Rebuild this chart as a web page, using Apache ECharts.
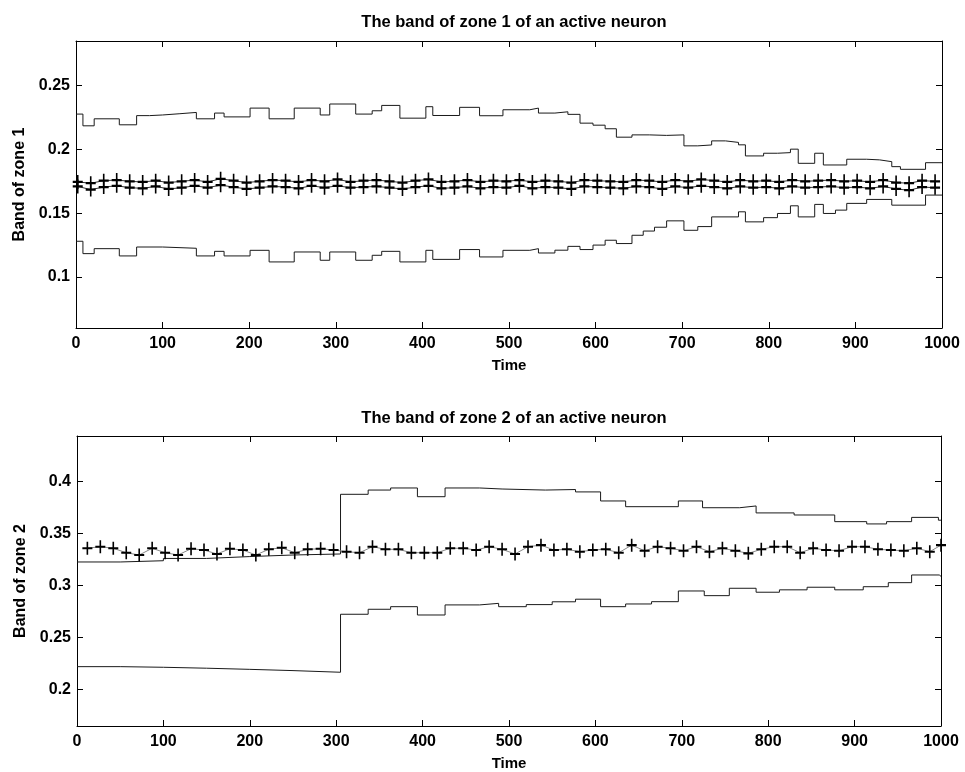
<!DOCTYPE html>
<html>
<head>
<meta charset="utf-8">
<script src="https://cdn.jsdelivr.net/npm/echarts@6/dist/echarts.min.js"></script>
<style>html,body{margin:0;padding:0;background:#fff}#c{width:965px;height:772px}</style>
</head>
<body>
<div id="c"></div>
<script>
// ---------- Data ----------
const titles = ["The band of zone 1 of an active neuron", "The band of zone 2 of an active neuron"];
const yNames = ["Band of zone 1", "Band of zone 2"];
const xName = "Time";
const xTicks = [0, 100, 200, 300, 400, 500, 600, 700, 800, 900, 1000];
const zone1YTicks = [0.1, 0.15, 0.2, 0.25];
const zone2YTicks = [0.2, 0.25, 0.3, 0.35, 0.4];

// Zone 1 upper band (step changes at these times)
const zone1UpperT = [0,8,21,50,70,85,100,120,139,160,171,201,223,252,282,293,323,342,353,374,404,412,443,466,493,524,534,553,568,582,597,611,624,642,662,682,702,718,734,750,765,773,794,810,825,834,853,863,890,913,928,942,952,981,1000];
const zone1UpperV = [0.2277,0.2185,0.224,0.2193,0.2265,0.227,0.228,0.229,0.224,0.2285,0.2255,0.2324,0.224,0.2324,0.227,0.2356,0.2277,0.2303,0.2345,0.2245,0.2335,0.2266,0.233,0.2264,0.2311,0.2324,0.2285,0.2295,0.2275,0.2206,0.219,0.2162,0.2096,0.2114,0.211,0.2114,0.2028,0.2035,0.2067,0.2055,0.2036,0.1949,0.197,0.1975,0.2002,0.1891,0.197,0.1878,0.1923,0.1918,0.1904,0.1865,0.1844,0.1896,0.1896];
// Zone 1 lower band
const zone1LowerT = [0,8,21,50,70,100,139,160,171,201,223,252,282,293,323,342,353,374,404,412,443,466,493,524,534,553,568,582,597,611,624,642,655,668,682,702,718,734,765,773,794,810,825,834,853,863,877,890,913,942,981,1000];
const zone1LowerV = [0.128,0.1183,0.1222,0.1165,0.1235,0.1225,0.1165,0.1201,0.1165,0.1209,0.1118,0.1196,0.1131,0.1196,0.1131,0.117,0.1201,0.1118,0.1209,0.1138,0.1215,0.1157,0.1209,0.1222,0.1188,0.121,0.124,0.1215,0.125,0.1288,0.1262,0.1327,0.136,0.139,0.144,0.1366,0.1395,0.1471,0.1511,0.1432,0.1465,0.1498,0.1558,0.1471,0.1569,0.1498,0.1524,0.1577,0.1608,0.1563,0.1642,0.1642];
// Zone 1 marked samples
const zone1MarkT = [2,17,32,47,62,77,92,107,122,137,152,167,182,197,212,227,242,257,272,287,302,317,332,347,362,377,392,407,422,437,452,467,482,497,512,527,542,557,572,587,602,617,632,647,662,677,692,707,722,737,752,767,782,797,812,827,842,857,872,887,902,917,932,947,962,977,992];
const zone1MarkA = [0.1745,0.1735,0.1755,0.1760,0.1750,0.1745,0.1755,0.1740,0.1750,0.1760,
  0.1745,0.1770,0.1755,0.1740,0.1750,0.1760,0.1755,0.1745,0.1760,0.1750,
  0.1765,0.1745,0.1755,0.1760,0.1750,0.1740,0.1755,0.1765,0.1745,0.1750,
  0.1760,0.1745,0.1755,0.1750,0.1760,0.1745,0.1755,0.1750,0.1740,0.1760,
  0.1755,0.1750,0.1745,0.1760,0.1755,0.1745,0.1760,0.1750,0.1765,0.1755,
  0.1745,0.1760,0.1750,0.1755,0.1745,0.1760,0.1750,0.1755,0.1760,0.1750,
  0.1755,0.1745,0.1760,0.1740,0.1735,0.1755,0.1750];
const zone1MarkB = [0.1710,0.1685,0.1705,0.1715,0.1700,0.1695,0.1710,0.1690,0.1700,0.1715,
  0.1700,0.1720,0.1705,0.1690,0.1700,0.1710,0.1705,0.1695,0.1715,0.1700,
  0.1715,0.1700,0.1705,0.1710,0.1700,0.1690,0.1705,0.1715,0.1695,0.1700,
  0.1710,0.1695,0.1705,0.1700,0.1715,0.1695,0.1705,0.1700,0.1690,0.1710,
  0.1705,0.1700,0.1695,0.1710,0.1705,0.1690,0.1710,0.1700,0.1715,0.1705,
  0.1695,0.1710,0.1700,0.1705,0.1695,0.1710,0.1700,0.1705,0.1710,0.1700,
  0.1705,0.1695,0.1710,0.1690,0.1680,0.1705,0.1700];

// Zone 2 upper band
const zone2UpperT = [0,50,100,150,200,250,305,337,363,394,426,466,492,542,577,606,635,696,724,767,786,830,877,914,937,966,997,1000];
const zone2UpperV = [0.3228,0.324,0.3262,0.328,0.3295,0.3305,0.3879,0.392,0.394,0.3856,0.394,0.393,0.392,0.3925,0.3902,0.3815,0.376,0.3815,0.375,0.3767,0.370,0.368,0.3616,0.3594,0.3616,0.3657,0.363,0.363];
// Zone 2 lower band
const zone2LowerT = [0,50,100,150,200,250,305,337,363,394,426,466,488,520,550,577,606,635,665,696,726,755,786,813,845,877,910,939,966,998,1000];
const zone2LowerV = [0.2221,0.2215,0.2206,0.2195,0.2183,0.2167,0.2725,0.2773,0.2798,0.2718,0.2815,0.283,0.2798,0.2818,0.2845,0.287,0.2798,0.2824,0.2846,0.2949,0.2904,0.2975,0.2937,0.296,0.2985,0.296,0.299,0.3029,0.3103,0.309,0.309];
// Zone 2 marked samples
const zone2MarkT = [12,27,42,57,72,87,102,117,132,147,162,177,192,207,222,237,252,267,282,297,312,327,342,357,372,387,402,417,432,447,462,477,492,507,522,537,552,567,582,597,612,627,642,657,672,687,702,717,732,747,762,777,792,807,822,837,852,867,882,897,912,927,942,957,972,987,1000];
const zone2MarkV = [0.336,0.3375,0.336,0.3317,0.3295,0.336,0.3317,0.3295,0.3355,0.3343,
  0.3305,0.3355,0.3343,0.3295,0.335,0.3365,0.3317,0.335,0.3355,0.3343,
  0.3327,0.3317,0.3375,0.335,0.335,0.3317,0.3317,0.3317,0.336,0.336,0.3343,
  0.3375,0.335,0.3305,0.3375,0.339,0.3343,0.335,0.3327,0.3343,0.335,
  0.3317,0.339,0.3336,0.3375,0.336,0.3336,0.3375,0.3327,0.336,0.3336,
  0.3311,0.335,0.3375,0.3375,0.3317,0.336,0.3343,0.3336,0.3375,0.3375,
  0.335,0.3343,0.3336,0.336,0.3327,0.339];

// ---------- Chart ----------
function pairs(t, v) { return t.map((x, i) => [x, v[i]]); }
const FONT = '"Liberation Sans", Arial, Helvetica, sans-serif';
const PLUS = 'path://M4.2,0H5.8V4.2H10V5.8H5.8V10H4.2V5.8H0V4.2H4.2Z';

const grids = [
  { left: 76, right: 23, top: 41, height: 287 },
  { left: 77, right: 24, top: 436, height: 290 }
];
const yRanges = [[0.06, 0.285], [0.165, 0.444]];
const yTicks = [zone1YTicks, zone2YTicks];

const xAxes = [], yAxes = [];
[0, 1].forEach(g => {
  xAxes.push({
    type: 'value', gridIndex: g, min: 0, max: 1000, interval: 100, position: 'bottom',
    name: xName, nameLocation: 'middle', nameGap: 30,
    nameTextStyle: { fontFamily: FONT, fontWeight: 'bold', fontSize: 15, color: '#000' },
    axisLine: { onZero: false, lineStyle: { color: '#000', width: 1 } },
    axisTick: { inside: true, length: 6, lineStyle: { color: '#000' } },
    axisLabel: { margin: 8, fontFamily: FONT, fontWeight: 'bold', fontSize: 16, color: '#000',
      customValues: xTicks, formatter: v => String(v) },
    splitLine: { show: false }
  });
  xAxes.push({
    type: 'value', gridIndex: g, min: 0, max: 1000, interval: 100, position: 'top',
    axisLine: { onZero: false, lineStyle: { color: '#000', width: 1 } },
    axisTick: { inside: true, length: 6, lineStyle: { color: '#000' } },
    axisLabel: { show: false }, splitLine: { show: false }
  });
  yAxes.push({
    type: 'value', gridIndex: g, min: yRanges[g][0], max: yRanges[g][1], position: 'left',
    name: yNames[g], nameLocation: 'middle', nameGap: 45,
    nameTextStyle: { fontFamily: FONT, fontWeight: 'bold', fontSize: 16, color: '#000' },
    axisLine: { show: true, onZero: false, lineStyle: { color: '#000', width: 1 } },
    axisTick: { show: true, inside: true, length: 6, lineStyle: { color: '#000' }, customValues: yTicks[g] },
    axisLabel: { margin: 6, fontFamily: FONT, fontWeight: 'bold', fontSize: 16, color: '#000', customValues: yTicks[g] },
    splitLine: { show: false }
  });
  yAxes.push({
    type: 'value', gridIndex: g, min: yRanges[g][0], max: yRanges[g][1], position: 'right',
    axisLine: { show: true, onZero: false, lineStyle: { color: '#000', width: 1 } },
    axisTick: { show: true, inside: true, length: 6, lineStyle: { color: '#000' }, customValues: yTicks[g] },
    axisLabel: { show: false }, splitLine: { show: false }
  });
});

function band(data, xi, yi) {
  return { type: 'line', xAxisIndex: xi, yAxisIndex: yi, data: data, step: 'end',
    showSymbol: false, symbol: 'none', lineStyle: { color: '#1a1a1a', width: 1 }, silent: true, z: 2 };
}
function marks(data, xi, yi, lineColor, size) {
  return { type: 'line', xAxisIndex: xi, yAxisIndex: yi, data: data,
    symbol: PLUS, symbolSize: size, showSymbol: true,
    itemStyle: { color: '#000' }, lineStyle: { color: lineColor, width: 1 }, silent: true, z: 3 };
}

const option = {
  animation: false,
  backgroundColor: '#fff',
  title: [
    { text: titles[0], left: 509, top: 9, textAlign: 'center',
      textStyle: { fontFamily: FONT, fontWeight: 'bold', fontSize: 16.5, color: '#000' } },
    { text: titles[1], left: 509, top: 405, textAlign: 'center',
      textStyle: { fontFamily: FONT, fontWeight: 'bold', fontSize: 16.5, color: '#000' } }
  ],
  grid: grids,
  xAxis: xAxes,
  yAxis: yAxes,
  series: [
    band(pairs(zone1UpperT, zone1UpperV), 0, 0),
    band(pairs(zone1LowerT, zone1LowerV), 0, 0),
    marks(pairs(zone1MarkT, zone1MarkA), 0, 0, '#333', [10, 14]),
    marks(pairs(zone1MarkT, zone1MarkB), 0, 0, '#333', [10, 14]),
    band(pairs(zone2UpperT, zone2UpperV), 2, 2),
    band(pairs(zone2LowerT, zone2LowerV), 2, 2),
    marks(pairs(zone2MarkT, zone2MarkV), 2, 2, '#888', [10, 13])
  ]
};
const chart = echarts.init(document.getElementById('c'), null, { renderer: 'canvas' });
chart.setOption(option);
</script>
</body>
</html>
